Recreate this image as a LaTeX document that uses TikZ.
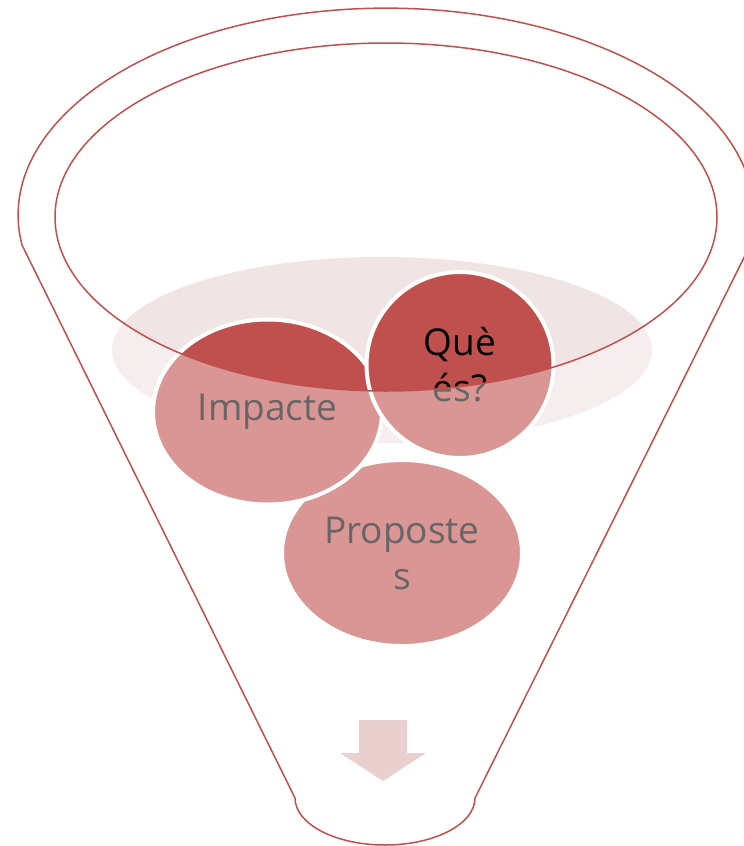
\documentclass[tikz,border=0pt]{standalone}
\usepackage{fontspec}
\setmainfont{Open Sans}
\usetikzlibrary{shapes.geometric}
\definecolor{funnelred}{RGB}{192,80,77}
\definecolor{paleband}{RGB}{241,228,228}
\definecolor{arrowpink}{RGB}{233,208,207}
\tikzset{
  ball/.style={ellipse, fill=funnelred, draw=white, line width=4pt, inner sep=0pt,
    align=center, text=black, font=\fontsize{37}{46}\selectfont},
  rim/.style={draw=funnelred, line width=1.5pt},
}
\begin{document}
\begin{tikzpicture}[x=1pt,y=-1pt]
  \useasboundingbox (0,0) rectangle (744,846);

  % pale liquid surface
  \fill[paleband] (382,350) ellipse [x radius=270, y radius=93];

  % the three items in the funnel
  \node[ball, minimum width=240pt, minimum height=186pt] (propostes) at (402,553) {Proposte\\s};
  \node[ball, minimum width=229pt, minimum height=185pt] (impacte) at (267.5,412) {Impacte};
  \node[ball, minimum width=187pt, minimum height=186pt] (quees) at (460,365) {Què\\és?};

  % translucent funnel body: everything outside the mouth is washed out
  \fill[white, fill opacity=0.4, even odd rule]
    (0,0) rectangle (744,846)
    (386,217) ellipse [x radius=331, y radius=174];

  % down arrow at the spout
  \fill[arrowpink] (359,720) -- (407,720) -- (407,753) -- (426,753) -- (383,781)
    -- (340,753) -- (359,753) -- cycle;

  % funnel outline
  \coordinate (lc) at (22,245);
  \coordinate (rc) at (748,245);
  \coordinate (rb) at (475,798);
  \coordinate (lb) at (295,798);
  \draw[rim] (lc) arc[start angle=171.7, end angle=368.3, x radius=368, y radius=207]
    -- (rb) arc[start angle=0, end angle=180, x radius=90, y radius=47]
    -- cycle;
  \draw[rim] (386,217) ellipse [x radius=331, y radius=174];
\end{tikzpicture}
\end{document}
